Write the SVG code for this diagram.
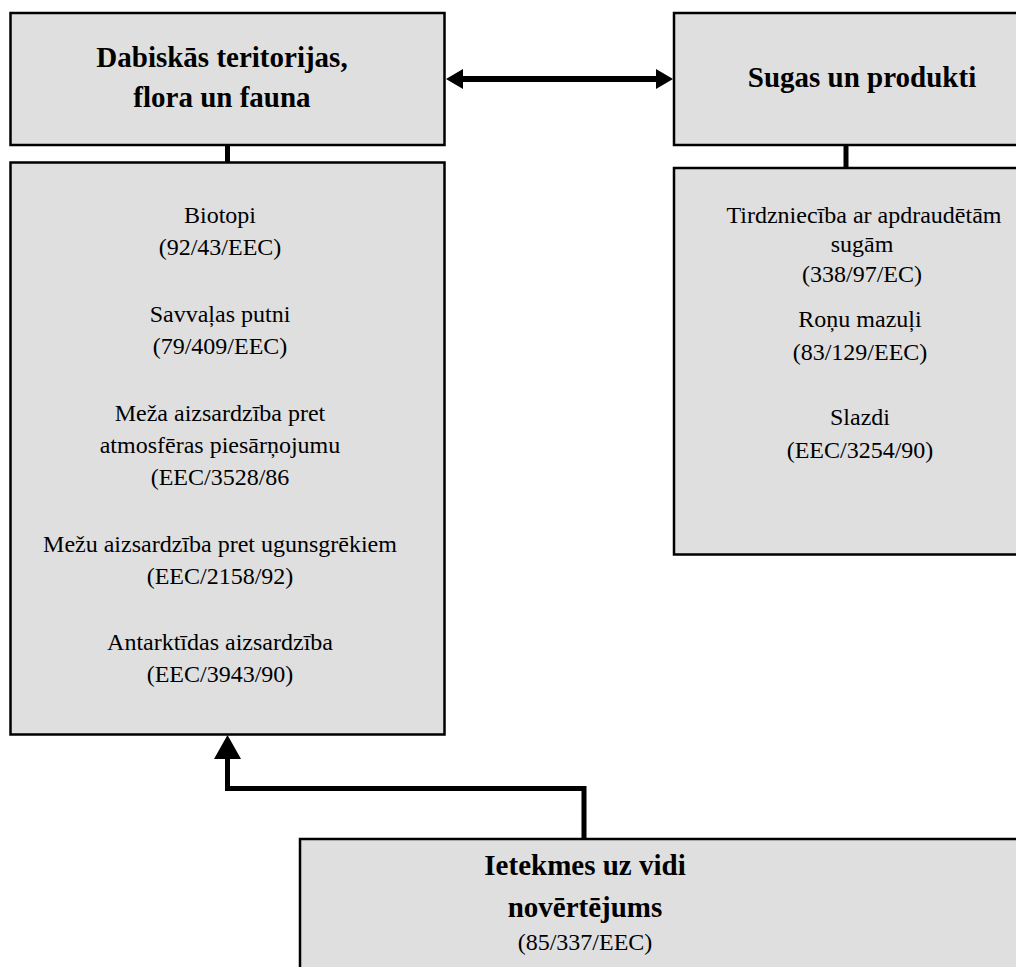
<svg xmlns="http://www.w3.org/2000/svg" width="1016" height="967" viewBox="0 0 1016 967">
  <style>
    .box { fill: #dfdfdf; stroke: #000; stroke-width: 2.5; }
    .title { font-family: "Liberation Serif", "Times New Roman", serif; font-weight: bold; font-size: 29px; fill: #000; text-anchor: middle; }
    .item { font-family: "Liberation Serif", "Times New Roman", serif; font-size: 24px; fill: #000; text-anchor: middle; }
    .link { fill: none; stroke: #000; stroke-linejoin: miter; }
  </style>
  <defs>
    <marker id="headSmall" viewBox="0 0 17 20" refX="7" refY="10" markerWidth="17" markerHeight="20" markerUnits="userSpaceOnUse" orient="auto-start-reverse">
      <path d="M0,0 L17,10 L0,20 z" fill="#000"/>
    </marker>
    <marker id="headLarge" viewBox="0 0 24 27" refX="14" refY="13.5" markerWidth="24" markerHeight="27" markerUnits="userSpaceOnUse" orient="auto">
      <path d="M0,0 L24,13.5 L0,27 z" fill="#000"/>
    </marker>
  </defs>

  <!-- connectors -->
  <g id="connectors">
    <line class="link" x1="227.5" y1="145" x2="227.5" y2="163" stroke-width="5"/>
    <line class="link" x1="846" y1="145" x2="846" y2="168" stroke-width="5"/>
    <line class="link" x1="456" y1="79" x2="663" y2="79" stroke-width="6" marker-start="url(#headSmall)" marker-end="url(#headSmall)"/>
    <path class="link" d="M584,839 V788.5 H227.5 V745" stroke-width="5" marker-end="url(#headLarge)"/>
  </g>

  <!-- natural areas, flora and fauna -->
  <g id="nature-title">
    <rect class="box" x="10.5" y="13" width="434" height="132"/>
    <text class="title" x="222" y="67">Dabiskās teritorijas,</text>
    <text class="title" x="222" y="107">flora un fauna</text>
  </g>

  <g id="nature-acts">
    <rect class="box" x="10.5" y="162.5" width="434" height="572"/>
    <text class="item" x="220" y="223">Biotopi</text>
    <text class="item" x="220" y="255">(92/43/EEC)</text>
    <text class="item" x="220" y="322">Savvaļas putni</text>
    <text class="item" x="220" y="354">(79/409/EEC)</text>
    <text class="item" x="220" y="421">Meža aizsardzība pret</text>
    <text class="item" x="220" y="453">atmosfēras piesārņojumu</text>
    <text class="item" x="220" y="485">(EEC/3528/86</text>
    <text class="item" x="220" y="552">Mežu aizsardzība pret ugunsgrēkiem</text>
    <text class="item" x="220" y="584">(EEC/2158/92)</text>
    <text class="item" x="220" y="650">Antarktīdas aizsardzība</text>
    <text class="item" x="220" y="682">(EEC/3943/90)</text>
  </g>

  <!-- species and products -->
  <g id="species-title">
    <rect class="box" x="674" y="13" width="400" height="132"/>
    <text class="title" x="862" y="87">Sugas un produkti</text>
  </g>

  <g id="species-acts">
    <rect class="box" x="674" y="168" width="400" height="386.5"/>
    <text class="item" x="864" y="223">Tirdzniecība ar apdraudētām</text>
    <text class="item" x="862" y="252">sugām</text>
    <text class="item" x="862" y="282">(338/97/EC)</text>
    <text class="item" x="860" y="327">Roņu mazuļi</text>
    <text class="item" x="860" y="360">(83/129/EEC)</text>
    <text class="item" x="860" y="425">Slazdi</text>
    <text class="item" x="860" y="458">(EEC/3254/90)</text>
  </g>

  <!-- environmental impact assessment -->
  <g id="impact">
    <rect class="box" x="300" y="839" width="800" height="200"/>
    <text class="title" x="585" y="875">Ietekmes uz vidi</text>
    <text class="title" x="585" y="917">novērtējums</text>
    <text class="item" x="585" y="950">(85/337/EEC)</text>
  </g>
</svg>
